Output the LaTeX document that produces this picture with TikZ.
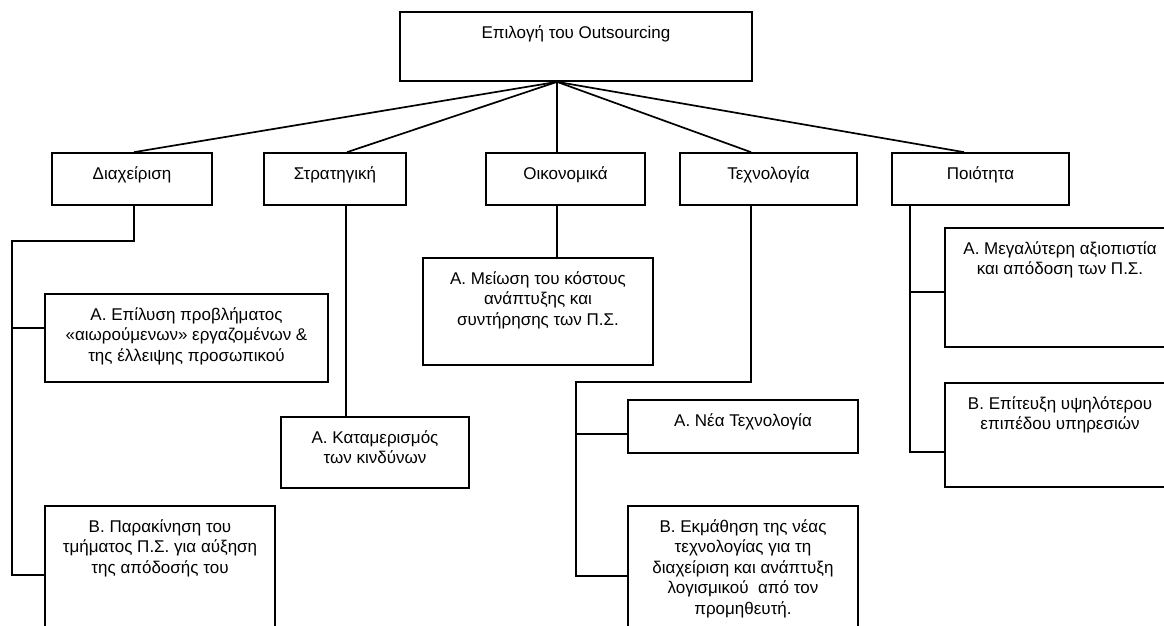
\documentclass[tikz,border=0pt]{standalone}
\usepackage{fontspec}
\setmainfont{Liberation Sans}
\newcommand\mkbox[6]{%
  \node[boxst, minimum width={#4-#2}, minimum height={#5-#3}] (#1) at ({(#2+#4)/2},{(#3+#5)/2}) {};
  \node[txt] (#1t) at ([yshift=-12.5pt]#1.north) {\strut #6};}
\begin{document}
\begin{tikzpicture}[x=1pt,y=-1pt,
  boxst/.style={draw=black, line width=1.7pt, inner sep=0pt, fill=white},
  txt/.style={anchor=north, inner sep=0pt, align=center, font=\fontsize{17}{20.5}\selectfont},
  ln/.style={draw=black, line width=1.7pt}]
\useasboundingbox (0,0) rectangle (1164,625);
\fill[white] (0,0) rectangle (1164,625);
\clip (0,0) rectangle (1164,625);

\mkbox{top}{400}{12}{752}{81}{Επιλογή του Outsourcing}
\mkbox{c1}{52}{153}{212}{205}{Διαχείριση}
\mkbox{c2}{264}{153}{406}{205}{Στρατηγική}
\mkbox{c3}{486}{153}{645}{205}{Οικονομικά}
\mkbox{c4}{680}{153}{857}{205}{Τεχνολογία}
\mkbox{c5}{892}{153}{1069}{205}{Ποιότητα}

\mkbox{d1}{45}{294}{328}{382}{Α. Επίλυση προβλήματος\\«αιωρούμενων» εργαζομένων \&\\της έλλειψης προσωπικού}
\mkbox{d2}{45}{506}{275}{660}{Β. Παρακίνηση του\\τμήματος Π.Σ. για αύξηση\\της απόδοσής του}
\mkbox{s1}{281}{417}{469}{488}{Α. Καταμερισμός\\των κινδύνων}
\mkbox{o1}{423}{258}{653}{365}{Α. Μείωση του κόστους\\ανάπτυξης και\\συντήρησης των Π.Σ.}
\mkbox{t1}{628}{400}{858}{453}{Α. Νέα Τεχνολογία}
\mkbox{t2}{628}{506}{858}{660}{Β. Εκμάθηση της νέας\\τεχνολογίας για τη\\διαχείριση και ανάπτυξη\\λογισμικού\ \ από τον\\προμηθευτή.}
\mkbox{p1}{945}{228}{1175}{347}{Α. Μεγαλύτερη αξιοπιστία\\και απόδοση των Π.Σ.}
\mkbox{p2}{945}{383}{1175}{487}{Β. Επίτευξη υψηλότερου\\επιπέδου υπηρεσιών}

\coordinate (apex) at ([xshift=-19pt]top.south);
\coordinate (j1) at (12,241);
\coordinate (j4) at (576,382);

\draw[ln] (apex) -- ([xshift=2pt]c1.north);
\draw[ln] (apex) -- ([xshift=12pt]c2.north);
\draw[ln] (apex) -- ([xshift=-8.5pt]c3.north);
\draw[ln] (apex) -- ([xshift=-17.5pt]c4.north);
\draw[ln] (apex) -- ([xshift=-16.5pt]c5.north);

\draw[ln] ([xshift=2pt]c1.south) |- (j1) |- ([yshift=-70pt]d2.north west);
\draw[ln] ([yshift=-35pt]d1.north west) -- ++(-33,0);

\draw[ln] ([xshift=11pt]c2.south) -- ([xshift=11pt]c2.south |- s1.north);
\draw[ln] ([xshift=-8.5pt]c3.south) -- ([xshift=-8.5pt]c3.south |- o1.north);

\draw[ln] ([xshift=-17.5pt]c4.south) |- (j4) |- ([yshift=-71pt]t2.north west);
\draw[ln] ([yshift=-35pt]t1.north west) -- ++(-52,0);

\draw[ln] ([xshift=-70.5pt]c5.south) |- ([yshift=-70pt]p2.north west);
\draw[ln] ([yshift=-65pt]p1.north west) -- ++(-35,0);
\end{tikzpicture}
\end{document}
